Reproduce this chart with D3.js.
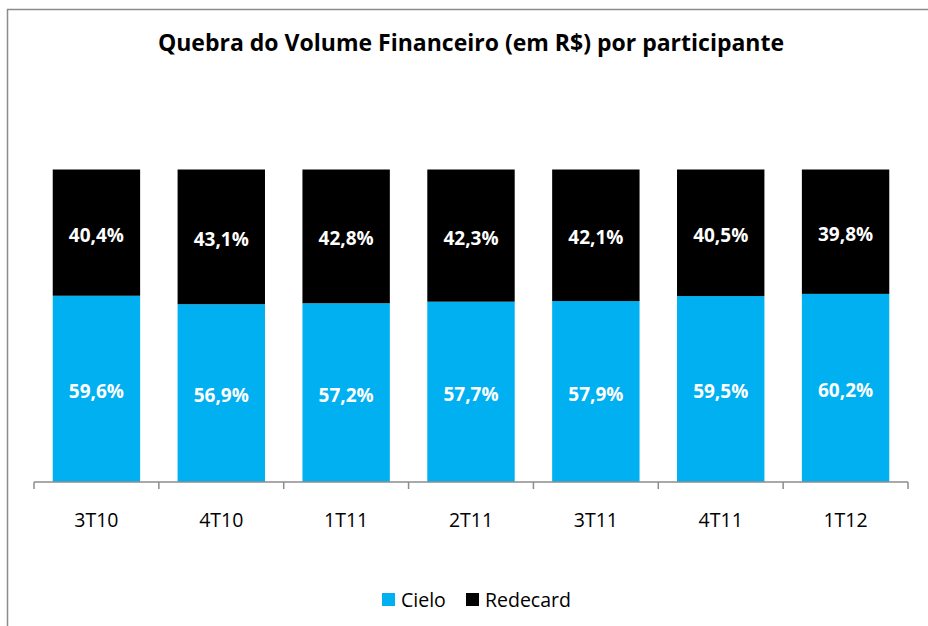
<!DOCTYPE html>
<html>
<head>
<meta charset="utf-8">
<script src="https://cdn.jsdelivr.net/npm/d3@7"></script>
<style>
  body { margin: 0; background: #fff; }
  svg { display: block; font-family: "Open Sans", Lato, sans-serif; }
</style>
</head>
<body>
<svg id="chart"></svg>
<script>
// quarters and share of each participant (%)
var quarters = ["3T10", "4T10", "1T11", "2T11", "3T11", "4T11", "1T12"];
var cielo = [59.6, 56.9, 57.2, 57.7, 57.9, 59.5, 60.2];
var redecard = [40.4, 43.1, 42.8, 42.3, 42.1, 40.5, 39.8];
var seriesNames = ["Cielo", "Redecard"];
var seriesColors = ["#00b0f0", "#000000"];

var width = 928, height = 626;

var svg = d3.select("#chart")
    .attr("width", width)
    .attr("height", height);

// outer frame (right and bottom edges fall outside the picture)
svg.append("rect")
    .attr("x", 7.5).attr("y", 9.5)
    .attr("width", width).attr("height", height)
    .style("fill", "none")
    .style("stroke", "#8c8c8c")
    .style("stroke-width", 1.5);

svg.append("text")
    .attr("x", 471).attr("y", 51)
    .attr("text-anchor", "middle")
    .style("font-size", "23px")
    .style("font-weight", "bold")
    .text("Quebra do Volume Financeiro (em R$) por participante");

var x = d3.scaleBand()
    .domain(quarters)
    .range([34, 908])
    .paddingInner(0.3)
    .paddingOuter(0.15);

var y = d3.scaleLinear()
    .domain([0, 100])
    .range([482, 169.5]);

var rows = quarters.map(function(q, i) {
    return {q: q, Cielo: cielo[i], Redecard: redecard[i]};
});
var stack = d3.stack().keys(seriesNames)(rows);

var layer = svg.append("g").selectAll("g")
    .data(stack)
  .enter().append("g")
    .style("fill", function(d, i) { return seriesColors[i]; });

layer.selectAll("rect")
    .data(function(d) { return d; })
  .enter().append("rect")
    .attr("x", function(d) { return x(d.data.q); })
    .attr("y", function(d) { return y(d[1]); })
    .attr("width", x.bandwidth())
    .attr("height", function(d) { return y(d[0]) - y(d[1]); });

layer.selectAll("text")
    .data(function(d) { return d; })
  .enter().append("text")
    .attr("x", function(d) { return x(d.data.q) + x.bandwidth() / 2; })
    .attr("y", function(d) { return (y(d[0]) + y(d[1])) / 2 + 9; })
    .attr("text-anchor", "middle")
    .style("fill", "#fff")
    .style("font-size", "19px")
    .style("font-weight", "bold")
    .text(function(d) { return (d[1] - d[0]).toFixed(1).replace(".", ",") + "%"; });

// category axis with ticks on the band boundaries
var bounds = d3.range(quarters.length + 1).map(function(i) { return 34 + i * (874 / quarters.length); });
var axis = svg.append("g").style("stroke", "#8c8c8c").style("stroke-width", 1.5);
axis.append("line")
    .attr("x1", 34).attr("x2", 908)
    .attr("y1", 482).attr("y2", 482);
axis.selectAll("line.tick")
    .data(bounds)
  .enter().append("line")
    .attr("class", "tick")
    .attr("x1", function(d) { return d; }).attr("x2", function(d) { return d; })
    .attr("y1", 482).attr("y2", 489);

svg.append("g").selectAll("text")
    .data(quarters)
  .enter().append("text")
    .attr("x", function(d) { return x(d) + x.bandwidth() / 2; })
    .attr("y", 527)
    .attr("text-anchor", "middle")
    .style("font-size", "19.5px")
    .text(function(d) { return d; });

// legend
var legendX = [382, 466];
var legend = svg.append("g").selectAll("g")
    .data(seriesNames)
  .enter().append("g")
    .attr("transform", function(d, i) { return "translate(" + legendX[i] + ",593)"; });
legend.append("rect")
    .attr("width", 13).attr("height", 13)
    .style("fill", function(d, i) { return seriesColors[i]; });
legend.append("text")
    .attr("x", 19).attr("y", 13.5)
    .style("font-size", "19.5px")
    .text(function(d) { return d; });
</script>
</body>
</html>
